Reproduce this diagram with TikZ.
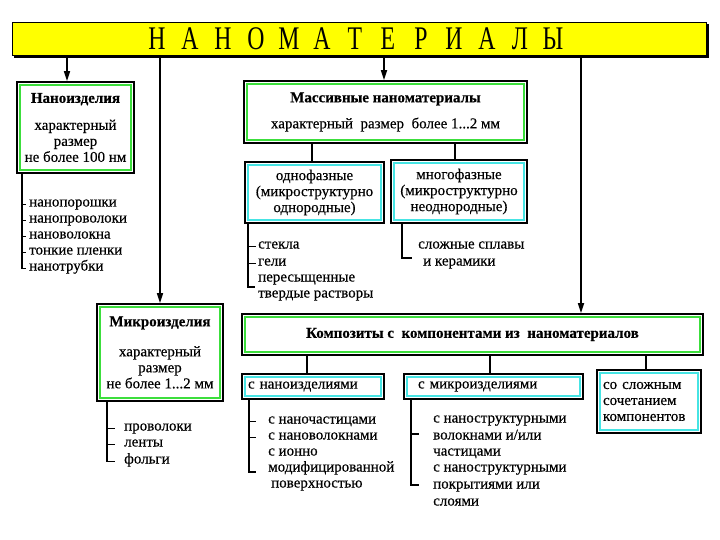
\documentclass[tikz,border=0pt]{standalone}
\usepackage{fontspec}
\setmainfont{Liberation Serif}[FakeBold=0.4]
\newfontfamily\titlefont[FakeStretch=0.72]{Liberation Serif}
\usetikzlibrary{arrows.meta,calc}
\definecolor{ttlyellow}{RGB}{255,255,0}
\definecolor{framegreen}{RGB}{60,222,60}
\definecolor{framecyan}{RGB}{70,228,228}
\newcommand{\TL}[1]{\makebox[33pt]{#1}}
\begin{document}
\begin{tikzpicture}[x=1pt,y=-1pt,
  every node/.style={font=\fontsize{15}{16}\selectfont, inner sep=0pt},
  box/.style args={#1/#2}{draw=black, line width=1.6pt, fill=white,
    minimum width=#1pt, minimum height=#2pt, align=center},
  head/.style={},
  item/.style={anchor=base west, align=left},
  arr/.style={line width=1.6pt, -{Triangle[width=6pt,length=10pt]}},
  conn/.style={line width=1.3pt},
  brk/.style={line width=1.3pt},
  gframe/.style={draw=framegreen, line width=2.2pt},
  cframe/.style={draw=framecyan, line width=2.2pt}]
\useasboundingbox (0,0) rectangle (720,540);

% title
\fill[black] (14,24) rectangle (709,58);
\node[draw=black, line width=1.3pt, fill=ttlyellow, minimum width=694pt, minimum height=33pt]
  (title) at (359.5,39) {};
\node[font=\titlefont\fontsize{33}{33}\selectfont, anchor=base] (ttext) at (355,50)
  {\TL{Н}\TL{А}\TL{Н}\TL{О}\TL{М}\TL{А}\TL{Т}\TL{Е}\TL{Р}\TL{И}\TL{А}\TL{Л}\TL{Ы}};

% boxes
\node[box=117/91] (nano) at (75.5,127.5)
  {\textbf{Наноизделия}\\[11pt]характерный\\размер\\не более 100 нм};
\node[box=126/97] (micro) at (160,352.5)
  {\textbf{Микроизделия}\\[14pt]характерный\\размер\\не более 1...2 мм};
\node[box=283/62] (mass) at (385.5,112)
  {\textbf{Массивные наноматериалы}\\[10pt]характерный\ \ размер\ \ более 1...2 мм};
\node[box=139/61] (odno) at (314.5,192.5)
  {однофазные\\(микроструктурно\\однородные)};
\node[box=136/63] (mnogo) at (459,191.5)
  {многофазные\\(микроструктурно\\неоднородные)};
\node[box=461/41] (comp) at (472.5,334.5)
  {\textbf{Композиты с\ \ компонентами из\ \ наноматериалов}};
\node[box=142/25, align=left, text width=130pt, inner xsep=6pt] (snano) at (313,386.5)
  {с наноизделиями};
\node[box=179/25, align=left, text width=165pt, inner xsep=7pt] (smicro) at (493.5,386.5)
  {\hspace*{7pt}с микроизделиями};
\node[box=104/63, align=left, text width=92pt, inner xsep=6pt] (sslozh) at (649,401.5)
  {со сложным\\сочетанием\\компонентов};

% inner frames
\foreach \n in {nano,micro,mass,comp}
  \draw[gframe] ($(\n.north west)+(3.6,3.6)$) rectangle ($(\n.south east)+(-3.6,-3.6)$);
\foreach \n in {odno,mnogo,snano,smicro,sslozh}
  \draw[cframe] ($(\n.north west)+(3.6,3.6)$) rectangle ($(\n.south east)+(-3.6,-3.6)$);

% arrows from title
\coordinate (a1) at (67,0);
\coordinate (a2) at (160,0);
\coordinate (a3) at (384,0);
\coordinate (a4) at (581,0);
\draw[arr] (title.south -| a1) -- (nano.north -| a1);
\draw[arr] (title.south -| a2) -- (micro.north -| a2);
\draw[arr] (title.south -| a3) -- (mass.north -| a3);
\draw[arr] (title.south -| a4) -- (comp.north -| a4);

% connectors below boxes
\coordinate (c1) at (312,0);
\coordinate (c2) at (455,0);
\draw[conn] (mass.south -| c1) -- (odno.north -| c1);
\draw[conn] (mass.south -| c2) -- (mnogo.north -| c2);
\coordinate (d1) at (307,0);
\coordinate (d2) at (490,0);
\coordinate (d3) at (646,0);
\draw[conn] (comp.south -| d1) -- (snano.north -| d1);
\draw[conn] (comp.south -| d2) -- (smicro.north -| d2);
\draw[conn] (comp.south -| d3) -- (sslozh.north -| d3);

% list under Наноизделия
\node[item] (n1) at (29,206.5) {нанопорошки};
\node[item] (n2) at (29,222.5) {нанопроволоки};
\node[item] (n3) at (29,238.5) {нановолокна};
\node[item] (n4) at (29,254.5) {тонкие пленки};
\node[item] (n5) at (29,270.5) {нанотрубки};
\coordinate (nl) at (22,0);
\draw[brk] (nano.south -| nl) |- ($(n5.mid west)+(-3,0)$);
\foreach \i in {1,...,4} \draw[brk] (nl |- n\i.mid west) -- ($(n\i.mid west)+(-3,0)$);

% list under Микроизделия
\node[item] (mi1) at (124,430.5) {проволоки};
\node[item] (mi2) at (124,446.5) {ленты};
\node[item] (mi3) at (124,463.5) {фольги};
\coordinate (ml) at (107,0);
\draw[brk] (micro.south -| ml) |- ($(mi3.mid west)+(-9,0)$);
\foreach \i in {1,2} \draw[brk] (ml |- mi\i.mid west) -- ($(mi\i.mid west)+(-9,0)$);

% list under однофазные
\node[item] (o1) at (258,248.5) {стекла};
\node[item] (o2) at (258,265.5) {гели};
\node[item] (o3) at (258,281.5) {пересыщенные};
\node[item] (o4) at (258,297.5) {твердые растворы};
\coordinate (ol) at (248,0);
\coordinate (oe) at (0,287);
\draw[brk] (odno.south -| ol) |- ($(oe -| o3.west)+(-3,0)$);
\foreach \i in {1,2} \draw[brk] (ol |- o\i.mid west) -- ($(o\i.mid west)+(-2,0)$);

% list under многофазные
\node[item] (g1) at (418,248.5) {сложные сплавы};
\node[item] (g2) at (423,265.5) {и керамики};
\coordinate (gl) at (402,0);
\coordinate (ge) at (412,258);
\draw[brk] (mnogo.south -| gl) |- (ge);

% list under с наноизделиями
\node[item] (s1) at (268,423.5) {с наночастицами};
\node[item] (s2) at (268,439.5) {с нановолокнами};
\node[item] (s3) at (268,455.5) {с ионно};
\node[item] (s4) at (268,471.5) {модифицированной};
\node[item] (s5) at (271,487.5) {поверхностью};
\coordinate (sl) at (249,0);
\coordinate (se) at (256,472);
\draw[brk] (snano.south -| sl) |- (se);
\foreach \i in {1,2} \draw[brk] (sl |- s\i.mid west) -- ($(s\i.mid west)+(-12,0)$);

% list under с микроизделиями
\node[item] (t1) at (433,422.5) {с наноструктурными};
\node[item] (t2) at (433,439.5) {волокнами и/или};
\node[item] (t3) at (433,455.5) {частицами};
\node[item] (t4) at (433,471.5) {с наноструктурными};
\node[item] (t5) at (433,488.5) {покрытиями или};
\node[item] (t6) at (433,505.5) {слоями};
\coordinate (tl) at (411,0);
\coordinate (te) at (419,485);
\coordinate (tt) at (419,434);
\draw[brk] (smicro.south -| tl) |- (te);
\draw[brk] (tl |- tt) -- (tt);
\end{tikzpicture}
\end{document}
